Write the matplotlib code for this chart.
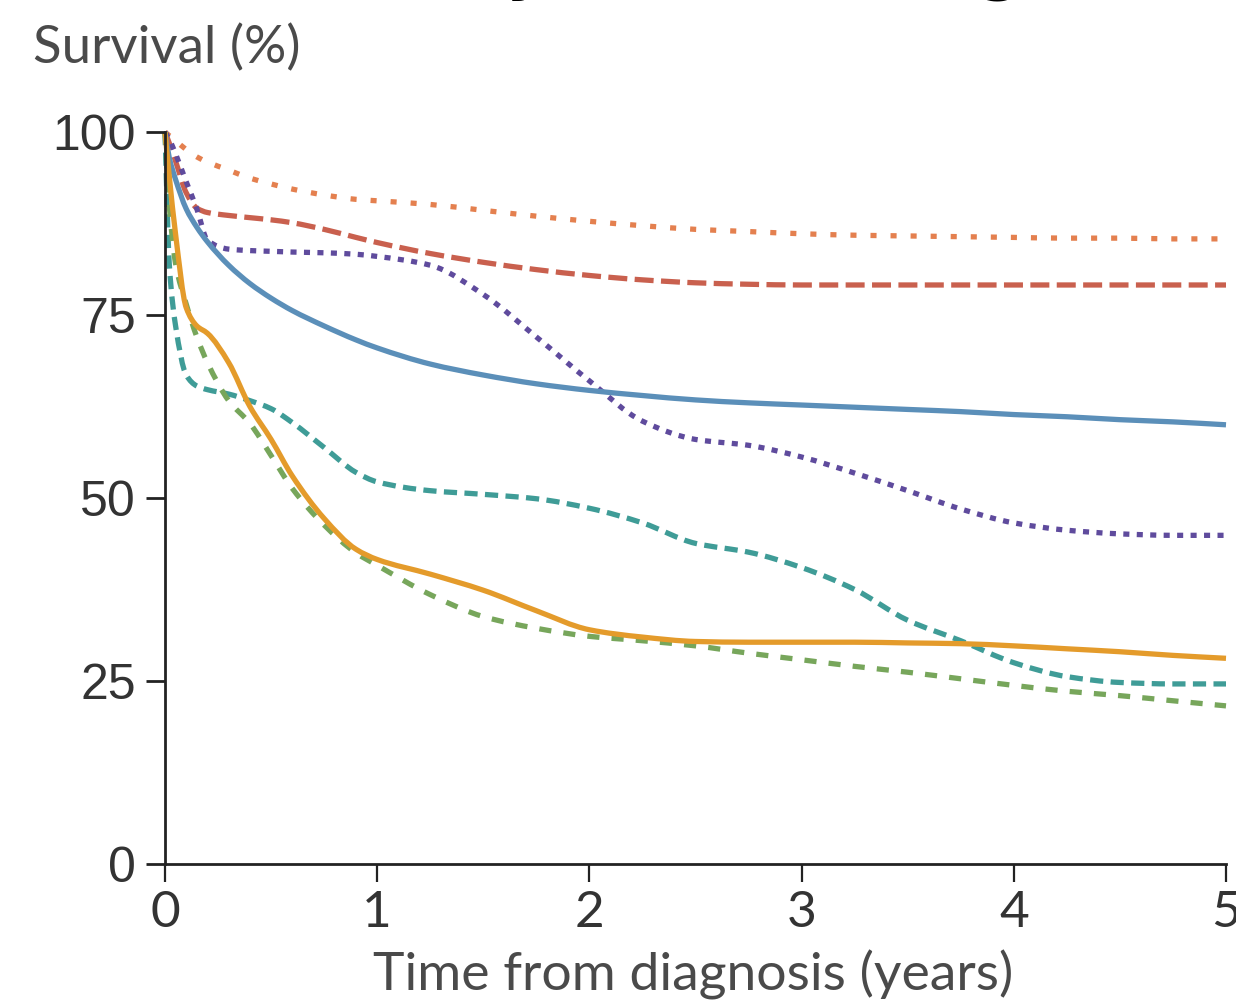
import matplotlib
matplotlib.use("Agg")
import matplotlib.pyplot as plt
from matplotlib import font_manager as fm
from matplotlib.path import Path
from matplotlib.patches import PathPatch

# ---------------- data ----------------
t = [0, 0.02, 0.05, 0.1, 0.15, 0.2, 0.3, 0.4, 0.5, 0.6, 0.75, 0.9, 1.0, 1.25, 1.5,
     1.75, 2.0, 2.25, 2.5, 2.75, 3.0, 3.25, 3.5, 3.75, 4.0, 4.25, 4.5, 4.75, 5.0]

orange_dotted = [100, 99.5, 98.8, 97.6, 96.6, 95.9, 94.8, 93.7, 92.9, 92.2, 91.4, 90.8, 90.6,
                 90.1, 89.3, 88.5, 87.8, 87.2, 86.7, 86.4, 86.1, 85.9, 85.8, 85.7, 85.6,
                 85.5, 85.5, 85.4, 85.4]
red_dashed = [100, 98.5, 96.0, 91.7, 89.6, 89.0, 88.6, 88.3, 88.0, 87.6, 86.7, 85.6, 84.9,
              83.4, 82.2, 81.2, 80.4, 79.8, 79.4, 79.2, 79.1, 79.1, 79.1, 79.1, 79.1,
              79.1, 79.1, 79.1, 79.1]
purple_dotted = [100, 99.0, 97.0, 93.2, 89.5, 85.2, 84.0, 83.8, 83.7, 83.6, 83.5, 83.3, 83.0,
                 81.8, 77.8, 72.0, 66.0, 60.5, 58.0, 57.2, 55.6, 53.4, 51.0, 48.5, 46.6,
                 45.6, 45.1, 44.9, 44.9]
blue_solid = [100, 96.5, 93.5, 89.5, 87.0, 85.0, 81.8, 79.3, 77.3, 75.6, 73.5, 71.6, 70.5,
              68.3, 66.8, 65.6, 64.7, 64.0, 63.4, 63.0, 62.7, 62.4, 62.1, 61.8, 61.4,
              61.1, 60.7, 60.4, 60.0]
teal_dashed = [100, 82.0, 73.5, 66.8, 65.3, 64.8, 64.2, 63.3, 62.2, 60.3, 56.9, 53.5, 52.2,
               51.0, 50.5, 49.9, 48.6, 46.6, 43.8, 42.6, 40.5, 37.5, 33.3, 30.5, 27.5,
               25.6, 24.8, 24.6, 24.6]
green_dashed = [100, 90.0, 82.0, 76.5, 72.0, 68.5, 63.3, 60.2, 55.8, 51.3, 46.3, 42.5, 40.8,
                36.8, 33.8, 32.2, 31.1, 30.5, 29.8, 28.8, 27.9, 27.0, 26.2, 25.3, 24.4,
                23.6, 23.0, 22.3, 21.6]
orange_solid = [100, 94.0, 86.0, 76.0, 73.5, 72.5, 68.5, 62.5, 58.0, 53.0, 47.2, 43.0, 41.6,
                39.6, 37.4, 34.6, 32.0, 31.0, 30.4, 30.3, 30.3, 30.3, 30.2, 30.1, 29.8,
                29.4, 29.0, 28.5, 28.1]

x_ticks = [0, 1, 2, 3, 4, 5]
y_ticks = [0, 25, 50, 75, 100]
x_label = "Time from diagnosis (years)"
y_label = "Survival (%)"
title_text = "Survival by tumour stage"

# ---------------- fonts ----------------
names = {f.name for f in fm.fontManager.ttflist}
narrow = "Liberation Sans Narrow" if "Liberation Sans Narrow" in names else "Lato"
wide = "Liberation Sans"


def smooth_path(xs, ys):
    """Monotone cubic (Fritsch-Carlson) curve through the points, as Bezier segments."""
    n = len(xs)
    d = [(ys[i + 1] - ys[i]) / (xs[i + 1] - xs[i]) for i in range(n - 1)]
    m = [0.0] * n
    m[0], m[-1] = d[0], d[-1]
    for i in range(1, n - 1):
        if d[i - 1] * d[i] <= 0:
            m[i] = 0.0
        else:
            h0 = xs[i] - xs[i - 1]
            h1 = xs[i + 1] - xs[i]
            w1, w2 = 2 * h1 + h0, h1 + 2 * h0
            m[i] = (w1 + w2) / (w1 / d[i - 1] + w2 / d[i])
    verts = [(xs[0], ys[0])]
    codes = [Path.MOVETO]
    for i in range(n - 1):
        h = xs[i + 1] - xs[i]
        verts += [(xs[i] + h / 3, ys[i] + m[i] * h / 3),
                  (xs[i + 1] - h / 3, ys[i + 1] - m[i + 1] * h / 3),
                  (xs[i + 1], ys[i + 1])]
        codes += [Path.CURVE4] * 3
    return Path(verts, codes)


W, H = 1236, 1006
fig = plt.figure(figsize=(W / 100, H / 100), dpi=100)
ax = fig.add_axes([165 / W, 1 - 864 / H, (1226 - 165) / W, (864 - 132) / H])

lw = 3.8
series = [
    (orange_dotted, "#e4804f", (0, (1.15, 2.65))),
    (red_dashed, "#c9604e", (0, (3.6, 1.4))),
    (purple_dotted, "#5f4b9d", (0, (1.15, 1.4))),
    (blue_solid, "#5b8fb9", "-"),
    (teal_dashed, "#3f9c97", (0, (2.5, 1.4))),
    (green_dashed, "#77a65b", (0, (2.3, 2.3))),
    (orange_solid, "#e49b2b", "-"),
]
for vals, col, ls in series:
    patch = PathPatch(smooth_path(t, vals), facecolor="none", edgecolor=col, lw=lw,
                      linestyle=ls, capstyle="butt", joinstyle="round", clip_on=False)
    ax.add_patch(patch)

ax.set_xlim(0, 5)
ax.set_ylim(0, 100)
for s in ["top", "right"]:
    ax.spines[s].set_visible(False)
for s in ["left", "bottom"]:
    ax.spines[s].set_color("#222222")
    ax.spines[s].set_linewidth(2.0)

ax.set_xticks(x_ticks)
ax.set_yticks(y_ticks)
ax.set_xticklabels([str(v) for v in x_ticks], fontfamily=narrow, fontsize=37, color="#333333")
ax.set_yticklabels([str(v) for v in y_ticks], fontfamily=wide, fontsize=36, color="#333333")
ax.tick_params(axis="x", length=13, width=1.6, color="#222222", pad=6)
ax.tick_params(axis="y", length=14, width=2.0, color="#222222", pad=7)

fig.text(33 / W, 1 - 48 / H, y_label, fontfamily=narrow, fontsize=38, color="#4a4a4a",
         ha="left", va="center")
fig.text(693 / W, 1 - 975 / H, x_label, fontfamily=narrow, fontsize=38.5, color="#4a4a4a",
         ha="center", va="center")

# title, mostly above the visible canvas (only descenders show)
fig.text(137 / W, 1 + 13 / H, title_text, fontfamily="DejaVu Sans", fontweight="bold",
         fontsize=47, color="black", ha="left", va="baseline")

fig.savefig("out.png", dpi=100)
